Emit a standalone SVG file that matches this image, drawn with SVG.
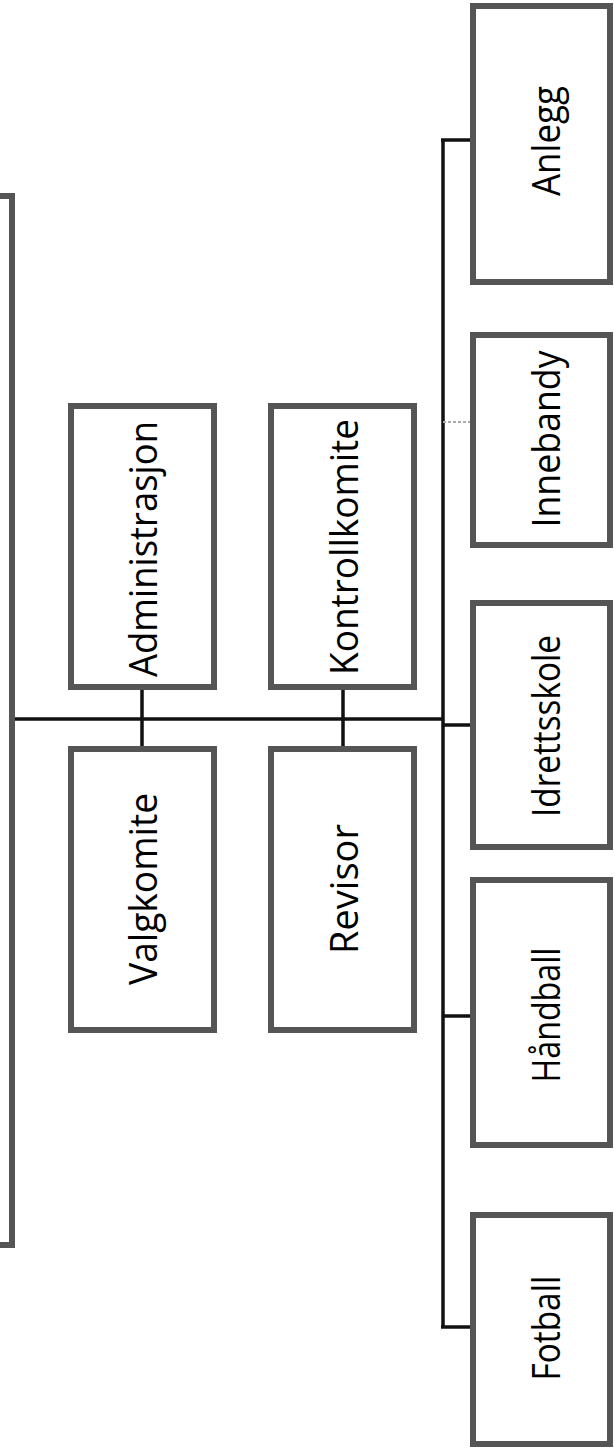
<svg xmlns="http://www.w3.org/2000/svg" width="615" height="1455" viewBox="0 0 615 1455">
<style>
.box{fill:#ffffff;stroke:#555555;stroke-width:6}
.lbl{font-family:"Open Sans","Liberation Sans",sans-serif;font-size:38px;fill:#000000;text-anchor:middle;dominant-baseline:central}
.con{fill:none;stroke:#111111;stroke-width:3.5}
.faint{fill:none;stroke:#aaaaaa;stroke-width:2;stroke-dasharray:3 2}
</style>
<rect width="615" height="1455" fill="#ffffff"/>
<g id="connectors">
<line class="con" x1="12" y1="719" x2="443" y2="719"/>
<line class="con" x1="443" y1="140" x2="443" y2="1327"/>
<line class="con" x1="142" y1="690" x2="142" y2="746"/>
<line class="con" x1="343" y1="690" x2="343" y2="746"/>
<line class="con" x1="441" y1="140" x2="470" y2="140"/>
<line class="faint" x1="443" y1="422" x2="470" y2="422"/>
<line class="con" x1="443" y1="725" x2="470" y2="725"/>
<line class="con" x1="443" y1="1016" x2="470" y2="1016"/>
<line class="con" x1="441" y1="1327" x2="470" y2="1327"/>
</g>
<g id="top"><rect class="box" x="-200" y="196" width="212" height="1049"/></g>
<g id="administrasjon"><rect class="box" x="71" y="406" width="143" height="281"/><text class="lbl" transform="translate(142,549) rotate(-90)" textLength="256" lengthAdjust="spacingAndGlyphs">Administrasjon</text></g>
<g id="valgkomite"><rect class="box" x="71" y="749" width="143" height="281"/><text class="lbl" transform="translate(142,889) rotate(-90)" textLength="192" lengthAdjust="spacingAndGlyphs">Valgkomite</text></g>
<g id="kontrollkomite"><rect class="box" x="271" y="406" width="143" height="281"/><text class="lbl" transform="translate(343,547) rotate(-90)" textLength="256" lengthAdjust="spacingAndGlyphs">Kontrollkomite</text></g>
<g id="revisor"><rect class="box" x="271" y="749" width="143" height="281"/><text class="lbl" transform="translate(343,889) rotate(-90)">Revisor</text></g>
<g id="anlegg"><rect class="box" x="473" y="6" width="137" height="276"/><text class="lbl" transform="translate(545,141) rotate(-90)" textLength="110" lengthAdjust="spacingAndGlyphs">Anlegg</text></g>
<g id="innebandy"><rect class="box" x="473" y="335" width="137" height="210"/><text class="lbl" transform="translate(545,439) rotate(-90)" textLength="177" lengthAdjust="spacingAndGlyphs">Innebandy</text></g>
<g id="idrettsskole"><rect class="box" x="473" y="603" width="137" height="244"/><text class="lbl" transform="translate(545,726) rotate(-90)" textLength="182" lengthAdjust="spacingAndGlyphs">Idrettsskole</text></g>
<g id="handball"><rect class="box" x="473" y="880" width="137" height="265"/><text class="lbl" transform="translate(545,1015) rotate(-90)" textLength="135" lengthAdjust="spacingAndGlyphs">Håndball</text></g>
<g id="fotball"><rect class="box" x="473" y="1215" width="137" height="229"/><text class="lbl" transform="translate(545,1328) rotate(-90)" textLength="105" lengthAdjust="spacingAndGlyphs">Fotball</text></g>
</svg>
